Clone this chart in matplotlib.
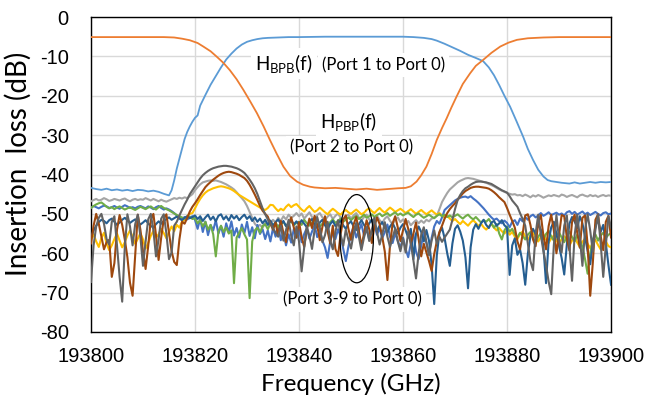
import numpy as np
import matplotlib
matplotlib.use('Agg')
import matplotlib.pyplot as plt
from matplotlib.patches import Ellipse

plt.rcParams['mathtext.fontset'] = 'custom'
plt.rcParams['mathtext.rm'] = 'Lato'
plt.rcParams['mathtext.default'] = 'regular'
plt.rcParams['axes.unicode_minus'] = False

# ---- band-pass / band-stop responses (GHz, dB) ----
f_bpb = [193800, 193801, 193802, 193803, 193804, 193805, 193806, 193807, 193808, 193809,
         193810, 193811, 193812, 193813, 193814, 193815, 193815.5, 193816, 193816.5, 193817,
         193817.5, 193818, 193818.5, 193819, 193819.5, 193820, 193820.5, 193821, 193822, 193823,
         193824, 193825, 193826, 193827, 193828, 193829, 193830, 193831, 193832, 193833,
         193834, 193836, 193838, 193840, 193845, 193850, 193855, 193860, 193862, 193864,
         193865.5, 193866.5, 193868, 193869.5, 193871, 193872.5, 193874, 193875.4, 193876.5, 193877.5,
         193878.5, 193879.5, 193880.6, 193881.8, 193883.1, 193884, 193885, 193886, 193887, 193887.8,
         193888.5, 193889.5, 193890.5, 193892, 193893, 193894, 193895, 193896, 193897, 193898,
         193899, 193900]
h_bpb = [-43.4, -43.7, -43.9, -43.6, -44.0, -43.8, -44.1, -43.9, -44.2, -43.9,
         -44.0, -44.3, -44.1, -44.4, -44.9, -45.3, -44.0, -41.5, -38.5, -36.0,
         -33.5, -31.0, -29.2, -27.8, -26.6, -25.6, -25.0, -22.5, -19.8, -17.2,
         -15.0, -12.8, -10.8, -9.3, -8.0, -7.0, -6.3, -5.9, -5.6, -5.4,
         -5.3, -5.2, -5.1, -5.1, -5.0, -5.0, -5.0, -5.0, -5.1, -5.3,
         -5.6, -6.0, -6.8, -7.7, -8.6, -9.6, -10.4, -11.2, -12.8, -14.8,
         -17.3, -20.0, -22.8, -26.4, -30.4, -33.5, -36.3, -38.8, -40.5, -41.4,
         -41.7, -41.9, -42.1, -42.3, -42.0, -42.3, -42.1, -41.9, -42.1, -41.9,
         -42.0, -41.9]

f_pbp = [193800, 193805, 193810, 193814, 193816, 193817.5, 193819, 193820.5, 193821.6, 193823,
         193824.2, 193825.5, 193826.7, 193828, 193829.3, 193830.6, 193831.9, 193833.2, 193834.4, 193835.7,
         193837, 193838.3, 193839.6, 193840.8, 193842.1, 193843, 193845, 193847, 193849, 193851,
         193853, 193855, 193857, 193859, 193860.5, 193861.5, 193862.6, 193863.5, 193864.5, 193865.5,
         193866.5, 193867.5, 193868.4, 193869.3, 193870.3, 193871.5, 193872.9, 193874, 193875.4, 193877,
         193878.7, 193880.3, 193881.9, 193884, 193887, 193890, 193900]
h_pbp = [-5.1, -5.1, -5.1, -5.1, -5.2, -5.5, -5.9, -6.6, -7.5, -8.7,
         -10.1, -11.7, -13.5, -15.8, -18.5, -21.4, -24.4, -27.8, -31.2, -34.7,
         -38.0, -40.4, -41.8, -42.6, -43.1, -43.3, -43.5, -43.4, -43.6, -43.8,
         -43.6, -43.9, -43.7, -43.5, -43.4, -43.0, -41.8, -40.2, -38.0, -34.8,
         -31.2, -28.2, -25.7, -23.0, -20.2, -17.0, -14.3, -12.4, -10.9, -9.1,
         -7.5, -6.5, -5.8, -5.4, -5.2, -5.1, -5.1]

# ---- crosstalk to port 0 from ports 3..9, sampled every 0.5 GHz ----
f_ports = np.arange(193800, 193900.5, 0.5)

port3 = [-46.8, -46.5, -46.2, -46.6, -46.4, -46.0, -46.3, -46.7, -46.5, -46.2, -46.4, -46.6, -46.3, -46.1, -46.5, -46.8, -46.4, -46.2, -46.5, -46.3,
         -46.4, -46.0, -46.3, -46.6, -46.2, -46.5, -46.8, -46.4, -46.7, -46.9, -46.6, -46.3, -46.0, -46.2, -45.9, -46.1, -45.8, -46.0, -45.5, -45.0,
         -44.0, -43.2, -42.5, -42.0, -41.8, -41.6, -41.5, -41.6, -41.5, -41.7, -41.9, -42.2, -42.5, -42.9, -43.3, -43.8, -44.5, -45.3, -46.0, -46.8,
         -48.0, -49.5, -51.0, -52.5, -53.2, -52.8, -53.5, -52.4, -51.8, -52.6, -51.5, -52.2, -51.0, -51.8, -50.6, -51.4, -50.2, -51.0, -50.5, -49.8,
         -50.6, -49.9, -51.2, -50.4, -49.6, -50.8, -51.5, -50.3, -49.8, -50.9, -51.6, -50.7, -50.1, -51.3, -50.5, -49.9, -51.0, -51.8, -50.6, -50.2,
         -51.2, -50.4, -49.8, -50.9, -51.7, -50.8, -50.2, -51.4, -52.0, -51.1, -50.5, -51.6, -52.3, -51.2, -50.6, -51.8, -52.6, -51.5, -50.9, -52.1,
         -51.4, -52.5, -51.8, -52.9, -52.2, -51.6, -52.4, -51.7, -52.3, -51.5, -51.9, -51.2, -51.0, -50.5, -48.8, -47.0, -45.8, -44.7, -43.8, -43.2,
         -42.6, -42.0, -41.6, -41.3, -41.0, -40.9, -41.0, -41.1, -41.3, -41.5, -41.7, -41.9, -42.1, -42.4, -42.7, -43.0, -43.4, -43.8, -44.1, -44.4,
         -44.7, -44.9, -45.1, -45.0, -45.3, -45.2, -45.5, -45.1, -45.4, -45.8, -45.3, -45.6, -45.2, -45.5, -45.9, -45.6, -45.3, -45.5, -45.2, -45.4,
         -45.6, -45.1, -45.3, -45.7, -45.4, -45.2, -45.5, -45.8, -45.3, -45.1, -45.4, -45.6, -45.2, -45.5, -45.3, -45.7, -45.4, -45.2, -45.5, -45.3,
         -45.4]

port4 = [-56.5, -55.2, -57.0, -58.4, -56.1, -54.8, -57.5, -59.2, -58.0, -56.4, -55.0, -56.8, -58.5, -57.2, -55.5, -54.2, -55.8, -57.6, -56.3, -54.9,
         -56.5, -58.8, -57.4, -55.6, -54.3, -56.0, -55.2, -53.8, -54.9, -56.2, -54.6, -53.2, -54.4, -52.8, -53.5, -52.0, -51.5, -50.6, -50.0, -49.8,
         -48.6, -47.3, -46.2, -45.3, -44.6, -44.1, -43.8, -43.5, -43.3, -43.1, -43.0, -43.1, -43.3, -43.5, -43.8, -44.2, -44.7, -45.2, -45.6, -46.0,
         -46.4, -46.8, -47.2, -47.6, -48.0, -48.4, -48.8, -49.0, -48.5, -47.7, -47.8, -48.6, -49.3, -48.7, -49.1, -48.2, -47.6, -48.3, -47.8, -47.5,
         -48.2, -48.9, -49.4, -48.6, -48.0, -48.8, -49.5, -49.1, -48.4, -49.0, -49.6, -50.1, -49.3, -48.7, -49.2, -49.8, -50.2, -49.5, -49.0, -49.6,
         -50.0, -49.4, -48.9, -49.5, -50.1, -49.7, -49.0, -48.6, -49.3, -49.8, -49.1, -48.5, -49.2, -49.7, -49.0, -48.4, -48.9, -49.5, -49.1, -48.7,
         -49.2, -49.8, -49.3, -48.8, -49.4, -50.0, -49.5, -49.0, -49.6, -50.1, -49.6, -49.1, -49.7, -50.2, -49.8, -50.4, -51.0, -50.5, -51.2, -51.8,
         -51.3, -52.0, -52.6, -51.8, -52.4, -53.0, -52.2, -51.6, -52.3, -53.1, -52.5, -53.4, -54.0, -53.2, -52.6, -53.5, -54.2, -53.6, -54.4, -55.0,
         -54.2, -55.3, -54.6, -55.8, -56.4, -55.1, -54.5, -55.7, -56.6, -55.4, -54.8, -56.0, -57.0, -55.9, -55.2, -56.5, -57.4, -56.2, -55.5, -56.8,
         -57.6, -56.4, -55.7, -56.9, -58.0, -56.8, -56.0, -57.3, -58.4, -57.1, -56.3, -57.6, -58.7, -57.4, -56.6, -57.9, -59.0, -57.8, -57.0, -58.2,
         -58.5]

port5 = [-48.4, -48.0, -48.3, -48.6, -48.2, -47.9, -48.1, -48.5, -48.3, -48.0, -48.4, -48.7, -48.2, -47.8, -48.1, -48.5, -48.3, -48.6, -48.2, -48.0,
         -48.3, -48.6, -48.1, -48.4, -48.8, -48.3, -48.0, -48.5, -48.9, -48.6, -48.9, -49.3, -49.8, -50.4, -50.9, -51.3, -50.8, -51.4, -51.0, -50.6,
         -51.5, -53.8, -51.2, -54.6, -52.0, -55.4, -52.8, -54.2, -51.6, -55.0, -53.1, -55.8, -52.4, -54.7, -51.9, -55.5, -53.6, -56.0, -52.7, -54.9,
         -52.0, -55.6, -53.4, -56.2, -52.8, -55.1, -53.9, -56.4, -54.2, -57.0, -53.6, -55.8, -52.9, -56.7, -54.5, -58.0, -55.2, -57.3, -53.8, -56.1,
         -54.0, -57.2, -55.1, -53.6, -56.3, -54.5, -52.8, -55.9, -54.2, -56.8, -58.5, -61.2, -57.0, -54.8, -56.4, -53.9, -55.7, -58.9, -62.0, -58.3,
         -55.1, -53.2, -56.0, -54.3, -52.6, -55.5, -53.8, -56.6, -54.0, -52.9, -55.3, -53.5, -56.2, -54.6, -52.7, -55.8, -57.4, -54.9, -56.9, -58.7,
         -56.0, -58.9, -61.0, -57.5, -55.2, -59.6, -61.5, -58.0, -54.8, -57.4, -60.2, -56.1, -53.2, -51.8, -52.5, -50.9, -49.0, -48.4, -47.8, -47.2,
         -46.6, -46.2, -45.9, -45.7, -45.6, -45.9, -45.5, -46.1, -46.6, -47.2, -47.9, -48.6, -49.4, -50.2, -50.9, -51.5, -51.2, -51.9, -52.4, -51.7,
         -52.3, -53.4, -52.0, -51.6, -52.8, -51.2, -51.9, -50.8, -51.5, -50.6, -50.2, -50.9, -50.4, -49.8, -50.5, -50.1, -49.6, -50.3, -50.0, -49.7,
         -50.2, -49.9, -50.4, -49.6, -49.3, -50.0, -49.5, -50.2, -49.8, -49.4, -50.1, -49.7, -50.3, -49.9, -49.5, -50.0, -50.4, -49.8, -49.6, -50.1,
         -49.9]

port6 = [-48.5, -48.0, -47.6, -47.3, -47.1, -47.6, -48.2, -48.6, -48.3, -48.8, -48.4, -48.1, -48.5, -48.9, -48.6, -48.3, -48.7, -49.0, -48.6, -48.2,
         -48.5, -48.8, -48.4, -48.1, -48.6, -48.9, -48.3, -48.0, -48.5, -48.8, -49.1, -49.5, -49.9, -50.3, -50.6, -50.9, -51.2, -51.0, -50.7, -51.3,
         -51.0, -52.4, -51.6, -53.2, -52.0, -54.0, -52.8, -55.2, -60.8, -54.5, -53.0, -54.6, -53.5, -55.0, -54.2, -67.6, -56.0, -54.8, -53.6, -55.2,
         -56.5, -71.4, -57.0, -54.2, -53.5, -54.8, -53.1, -52.6, -53.9, -52.4, -53.0, -52.2, -53.4, -52.7, -52.0, -53.1, -52.5, -51.8, -52.9, -52.3,
         -52.0, -52.8, -51.5, -52.4, -53.0, -52.2, -51.7, -52.6, -53.2, -52.5, -51.9, -52.8, -52.1, -51.4, -52.3, -51.8, -51.2, -52.0, -51.5, -50.9,
         -51.6, -51.0, -50.5, -51.3, -50.8, -50.2, -51.0, -50.6, -50.1, -50.8, -50.3, -49.9, -50.6, -50.2, -49.8, -50.5, -50.0, -49.6, -50.3, -49.9,
         -50.4, -50.0, -49.7, -50.3, -50.8, -50.2, -49.9, -50.5, -51.0, -50.6, -50.2, -50.7, -51.1, -50.5, -50.1, -50.6, -50.2, -50.8, -50.4, -50.9,
         -50.5, -50.1, -50.7, -51.2, -50.6, -50.2, -50.9, -51.4, -50.8, -51.5, -52.2, -51.6, -52.0, -51.3, -52.4, -53.5, -52.6, -55.0, -56.5, -54.2,
         -53.2, -54.5, -53.8, -55.2, -56.0, -54.8, -55.6, -56.5, -55.3, -54.6, -56.2, -57.5, -55.8, -54.9, -56.4, -55.1, -54.3, -55.7, -56.8, -55.4,
         -54.7, -56.0, -57.2, -55.6, -54.5, -55.9, -57.0, -55.3, -56.6, -58.4, -61.5, -65.2, -60.0, -56.5, -55.2, -56.8, -55.5, -54.8, -56.1, -55.3,
         -54.9]

port7 = [-56.0, -54.2, -53.0, -52.1, -51.5, -51.8, -52.4, -51.6, -51.2, -52.0, -52.8, -52.2, -51.5, -51.0, -51.6, -52.3, -51.8, -51.4, -52.1, -52.7,
         -52.2, -51.6, -52.4, -53.1, -53.4, -52.6, -51.9, -52.5, -51.8, -51.3, -50.9, -51.5, -51.1, -50.7, -51.2, -51.6, -51.0, -50.6, -51.1, -50.8,
         -50.4, -51.3, -50.6, -51.8, -50.9, -50.2, -51.5, -50.7, -51.9, -50.5, -50.1, -51.4, -50.6, -51.7, -50.3, -51.2, -50.5, -51.6, -50.8, -50.2,
         -51.3, -50.6, -51.8, -50.9, -52.0, -51.2, -52.4, -51.5, -52.8, -51.7, -53.0, -52.1, -51.4, -52.6, -51.8, -53.1, -52.3, -51.6, -52.7, -51.9,
         -52.8, -51.6, -52.5, -53.4, -52.0, -51.3, -52.7, -53.6, -52.2, -51.5, -52.9, -54.0, -52.6, -51.8, -53.1, -52.4, -51.7, -52.9, -53.8, -52.5,
         -51.9, -53.2, -54.1, -52.7, -51.6, -52.8, -53.9, -52.4, -51.5, -52.9, -54.3, -53.0, -52.1, -53.5, -54.6, -53.2, -52.3, -53.8, -55.0, -53.5,
         -52.6, -54.2, -56.0, -53.8, -61.5, -55.0, -53.2, -54.6, -57.0, -54.1, -56.8, -63.0, -72.9, -60.5, -54.8, -53.5, -56.2, -60.0, -63.2, -57.5,
         -53.8, -52.9, -54.5, -56.8, -61.0, -68.9, -58.5, -54.0, -52.6, -53.8, -52.4, -51.5, -52.8, -53.6, -52.2, -51.8, -53.0, -52.4, -51.6, -52.9,
         -53.5, -65.5, -58.0, -56.2, -60.4, -59.0, -62.5, -68.0, -60.2, -55.6, -53.8, -55.2, -52.6, -54.0, -58.5, -67.6, -57.0, -53.4, -52.0, -55.1,
         -58.3, -61.2, -65.4, -57.8, -52.5, -50.8, -51.9, -53.6, -50.6, -52.4, -55.8, -59.5, -62.8, -57.2, -53.0, -51.4, -54.6, -52.8, -57.5, -63.0,
         -68.0]

port8 = [-57.5, -53.0, -50.0, -52.5, -55.8, -59.0, -57.2, -56.6, -66.0, -62.5, -54.0, -50.3, -52.8, -56.5, -61.0, -67.5, -70.8, -60.5, -50.2, -54.0,
         -59.5, -64.0, -58.2, -51.5, -50.0, -55.4, -61.7, -56.0, -51.2, -50.1, -54.8, -59.5, -62.2, -63.0, -56.5, -52.0, -52.5, -51.0, -49.4, -48.2,
         -47.3, -46.3, -45.2, -44.2, -43.2, -42.5, -41.9, -41.3, -40.8, -40.3, -39.9, -39.6, -39.4, -39.3, -39.4, -39.6, -39.8, -40.1, -40.5, -40.9,
         -41.6, -42.6, -43.8, -45.1, -46.5, -48.0, -49.2, -50.0, -50.7, -52.5, -54.0, -52.2, -55.6, -51.8, -54.8, -57.2, -52.6, -50.9, -53.4, -56.0,
         -52.1, -55.8, -58.4, -54.0, -51.2, -53.6, -50.5, -52.9, -56.7, -53.3, -50.6, -54.4, -57.5, -53.0, -58.9, -60.7, -55.2, -51.4, -50.4, -53.8,
         -56.6, -52.7, -50.8, -54.1, -58.2, -55.0, -51.6, -53.9, -57.4, -53.2, -50.9, -52.6, -55.8, -59.6, -66.8, -58.0, -52.4, -50.6, -53.5, -56.9,
         -54.2, -51.3, -53.8, -57.5, -55.0, -52.2, -56.4, -60.8, -57.6, -59.8, -62.0, -64.5, -60.2, -57.0, -54.6, -53.0, -51.2, -49.8, -48.8, -48.0,
         -47.3, -46.4, -45.6, -44.8, -44.2, -43.8, -43.4, -43.2, -43.1, -43.1, -43.2, -43.3, -43.4, -43.6, -44.0, -44.5, -45.1, -45.8, -46.4, -47.0,
         -48.5, -50.2, -51.8, -53.5, -57.0, -59.0, -55.2, -50.4, -50.1, -52.8, -56.5, -58.2, -52.0, -50.3, -55.6, -59.0, -53.1, -50.2, -54.2, -60.0,
         -55.4, -50.3, -50.6, -56.0, -59.3, -52.1, -50.2, -54.8, -58.6, -51.0, -50.4, -58.0, -70.8, -62.4, -51.5, -50.1, -55.6, -59.2, -52.0, -50.5,
         -56.0]

port9 = [-67.3, -58.0, -53.2, -51.0, -50.0, -52.5, -56.4, -57.8, -52.0, -50.6, -58.0, -66.0, -72.3, -58.5, -50.1, -53.2, -58.0, -52.6, -50.2, -55.8,
         -63.2, -57.0, -51.4, -50.0, -54.2, -60.8, -56.5, -51.2, -50.1, -55.0, -61.5, -59.8, -53.0, -52.0, -50.4, -49.0, -47.6, -46.4, -45.0, -44.0,
         -43.0, -42.0, -41.0, -40.2, -39.6, -39.1, -38.7, -38.4, -38.2, -38.0, -37.9, -37.8, -37.8, -37.9, -38.0, -38.2, -38.4, -38.7, -39.1, -39.6,
         -40.4, -41.3, -42.3, -43.5, -45.0, -46.8, -48.6, -50.1, -51.4, -52.4, -53.6, -54.8, -55.8, -53.0, -56.8, -54.2, -51.5, -55.6, -58.0, -53.2,
         -57.0, -64.6, -58.5, -53.2, -55.6, -58.9, -54.0, -50.8, -53.5, -57.2, -55.4, -52.0, -56.8, -59.0, -54.5, -51.6, -55.2, -58.1, -54.0, -56.6,
         -58.8, -55.0, -52.3, -55.7, -59.2, -56.0, -53.4, -56.9, -54.2, -51.0, -54.6, -57.8, -55.3, -52.1, -55.8, -58.4, -56.1, -53.7, -57.0, -59.5,
         -56.2, -59.8, -54.5, -57.5, -61.8, -66.4, -60.0, -55.3, -53.4, -57.2, -60.5, -56.8, -54.2, -57.6, -55.8, -57.1, -56.0, -55.0, -54.0, -51.5,
         -48.8, -46.5, -45.2, -44.2, -43.5, -43.1, -42.6, -42.2, -41.9, -41.8, -41.8, -41.9, -42.0, -42.2, -42.4, -42.8, -43.2, -43.6, -44.0, -44.3,
         -44.6, -45.5, -46.6, -47.4, -48.2, -49.8, -51.3, -53.0, -57.5, -62.0, -64.3, -55.0, -50.2, -55.4, -59.5, -63.0, -67.2, -70.4, -58.0, -50.3,
         -56.5, -59.8, -53.0, -50.4, -58.2, -67.0, -55.4, -50.2, -56.0, -63.2, -54.1, -50.1, -54.3, -59.6, -54.0, -50.2, -57.4, -66.0, -58.0, -50.6,
         -53.5]

port_series = [port3, port4, port5, port6, port7, port8, port9]
port_colors = ['#A5A5A5', '#FFC000', '#4472C4', '#70AD47', '#255E91', '#9E480E', '#636363']

xticks = [193800, 193820, 193840, 193860, 193880, 193900]
yticks = [0, -10, -20, -30, -40, -50, -60, -70, -80]

# =========================
# FIGURE
# =========================
fig = plt.figure(figsize=(6.49, 4.12), dpi=100)
ax = fig.add_axes([0.1402, 0.1942, 0.8013, 0.7645])

ax.plot(f_bpb, h_bpb, color='#5B9BD5', lw=1.3, zorder=3)
ax.plot(f_pbp, h_pbp, color='#ED7D31', lw=1.3, zorder=3)
for k, (vals, col) in enumerate(zip(port_series, port_colors)):
    ax.plot(f_ports, vals, color=col, lw=1.5, zorder=4 + k * 0.1)

ax.set_xlim(193800, 193900)
ax.set_ylim(-80, 0)
ax.set_xticks(xticks)
ax.set_yticks(yticks)
ax.grid(True, color='#D9D9D9', lw=1.0)
ax.set_axisbelow(True)
ax.tick_params(length=0, labelsize=14.5)
ax.tick_params(axis='y', pad=16)
ax.tick_params(axis='x', pad=11)
for lab in ax.get_xticklabels() + ax.get_yticklabels():
    lab.set_family('Liberation Sans')
for sp in ax.spines.values():
    sp.set_color('black')
    sp.set_linewidth(1.0)

ax.set_xlabel('Frequency (GHz)', family='Lato', fontsize=17.5, labelpad=5)
ax.set_ylabel('Insertion  loss (dB)', family='Lato', fontsize=20)
ax.yaxis.set_label_coords(-0.113, 0.535)

# annotations
box = dict(facecolor='white', edgecolor='none', pad=3)
ax.text(193831.5, -11.9, 'H$_{BPB}$(f)', family='Lato', fontsize=13.5,
        va='center', ha='left', bbox=box, zorder=10)
ax.text(193844.4, -12.2, '(Port 1 to Port 0)', family='Lato', fontsize=12,
        va='center', ha='left', bbox=box, zorder=10)
ax.text(193849.6, -26.6, 'H$_{PBP}$(f)', family='Lato', fontsize=13.5,
        va='center', ha='center', bbox=box, zorder=10)
ax.text(193850.2, -33.2, '(Port 2 to Port 0)', family='Lato', fontsize=12,
        va='center', ha='center', bbox=box, zorder=10)
ax.text(193850.2, -71.8, '(Port 3-9 to Port 0)', family='Lato', fontsize=12,
        va='center', ha='center', bbox=box, zorder=10)

ax.add_patch(Ellipse((193851.1, -56.3), width=6.4, height=22.4, fill=False,
                     ec='black', lw=0.9, zorder=11))

fig.savefig('out.png', dpi=100)
